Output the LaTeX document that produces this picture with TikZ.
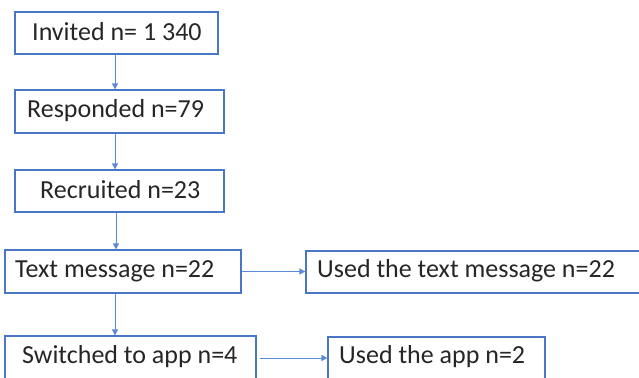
\documentclass[tikz,border=0pt]{standalone}
\usepackage{fontspec}
\setmainfont{Carlito}
\usetikzlibrary{arrows.meta}
\definecolor{boxblue}{HTML}{4A76C6}
\definecolor{arrblue}{HTML}{5A8AD8}
\definecolor{txt}{HTML}{262626}
\begin{document}
\begin{tikzpicture}[x=1pt,y=-1pt,
  box/.style={draw=boxblue, line width=1.2pt, rectangle, inner sep=0pt, fill=white},
  lbl/.style={inner sep=0pt, text=txt, font=\fontsize{26}{30}\selectfont, anchor=west},
  arr/.style={draw=arrblue, line width=1pt, -{Triangle[length=6pt,width=6pt]}}]
\useasboundingbox (0,0) rectangle (639,377);
\clip (0,0) rectangle (639,377);
\fill[white] (0,0) rectangle (639,377);
\node[box, minimum width=203pt, minimum height=42pt] (b1) at (116.5,33) {};
\node[box, minimum width=209pt, minimum height=43pt] (b2) at (119.5,111.5) {};
\node[box, minimum width=209pt, minimum height=42pt] (b3) at (119.5,191) {};
\node[box, minimum width=236pt, minimum height=43pt] (b4) at (123,271.5) {};
\node[box, minimum width=251pt, minimum height=44pt] (b5) at (130.5,358) {};
\node[box, minimum width=380pt, minimum height=42pt] (b6) at (496,272) {};
\node[box, minimum width=217pt, minimum height=44pt] (b7) at (436.5,359) {};
\node[lbl] (t1) at (32,32) {Invited n= 1 340};
\node[lbl] (t2) at (27,111) {Responded n=79};
\node[lbl] (t3) at (40,190) {Recruited n=23};
\node[lbl] (t4) at (15,271) {Text message n=22};
\node[lbl] (t5) at (22,357) {Switched to app n=4};
\node[lbl] (t6) at (317,271) {Used the text message n=22};
\node[lbl] (t7) at (339,357) {Used the app n=2};
\coordinate (ax) at (115,0);
\coordinate (bx) at (116,0);
\draw[arr] (b1.south -| ax) -- (b2.north -| ax);
\draw[arr] (b2.south -| ax) -- (b3.north -| ax);
\draw[arr] (b3.south -| bx) -- (b4.north -| bx);
\draw[arr] (b4.south -| ax) -- (b5.north -| ax);
\draw[arr] (b4.east) -- (b6.west |- b4.east);
\draw[arr] ([xshift=3pt]b5.east) -- (b7.west |- b5.east);
\end{tikzpicture}
\end{document}
